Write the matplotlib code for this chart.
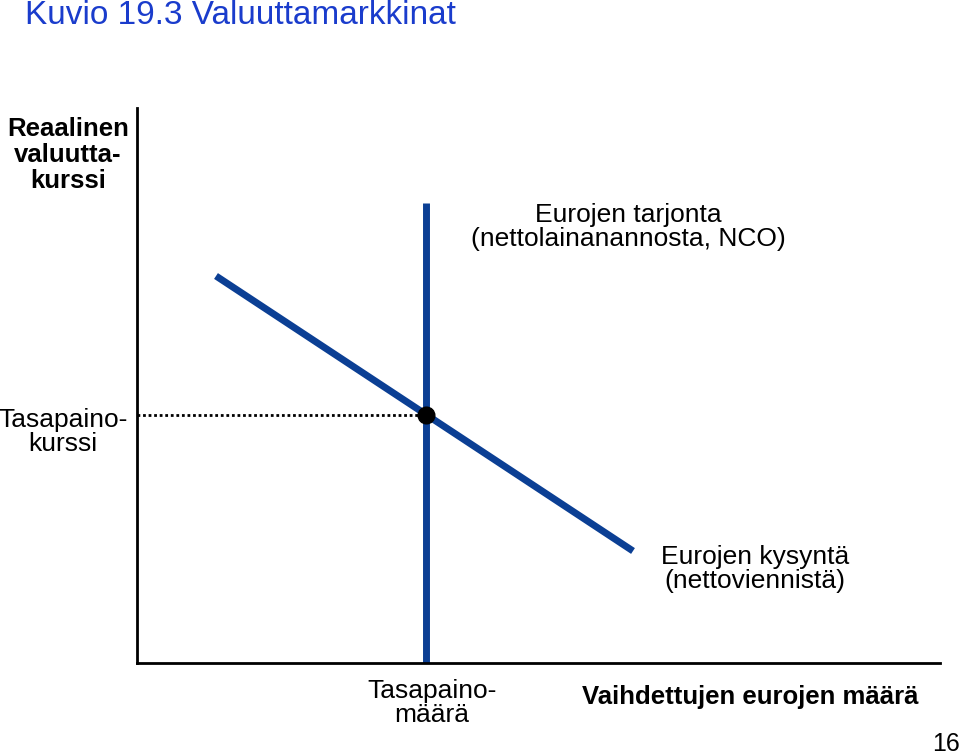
import matplotlib.pyplot as plt

plt.rcParams['font.family'] = ['Liberation Sans', 'DejaVu Sans']

# --- Data (pixel-like units, y grows downward) ---
X_MIN, X_MAX = 137, 940
Y_TOP, Y_BOTTOM = 108, 663
supply_x = [426, 426]
supply_y = [203, 663]
demand_x = [216, 633]
demand_y = [276, 551]
eq_x, eq_y = 426, 415
LINE_COLOR = '#0b3f94'

fig = plt.figure(figsize=(9.59, 7.55), dpi=100)
ax = fig.add_axes([137/959, 92/755, 803/959, 555/755])
ax.set_xlim(X_MIN, X_MAX)
ax.set_ylim(Y_BOTTOM, Y_TOP)
for s in ['top', 'right']:
    ax.spines[s].set_visible(False)
ax.spines['left'].set_linewidth(2)
ax.spines['bottom'].set_linewidth(2)
ax.set_xticks([])
ax.set_yticks([])

ax.plot(supply_x, supply_y, color=LINE_COLOR, lw=5, solid_capstyle='butt', clip_on=False)
ax.plot(demand_x, demand_y, color=LINE_COLOR, lw=5, solid_capstyle='butt')
ax.plot([X_MIN, eq_x], [eq_y, eq_y], color='black', lw=2, ls=(0, (1, 1)))
ax.plot(eq_x, eq_y, 'o', color='black', ms=12, zorder=5)

fig.text(25/959, 1 - 16/755, 'Kuvio 19.3 Valuuttamarkkinat', color='#1a3ccc',
         fontsize=24, va='center', ha='left')
fig.text(68/959, 1 - 155/755, 'Reaalinen\nvaluutta-\nkurssi', fontsize=18.5,
         fontweight='bold', ha='center', va='center', linespacing=1.1)
fig.text(63/959, 1 - 432/755, 'Tasapaino-\nkurssi', fontsize=19,
         ha='center', va='center', linespacing=1.05)
fig.text(432/959, 1 - 703/755, 'Tasapaino-\nmäärä', fontsize=19,
         ha='center', va='center', linespacing=1.05)
fig.text(750/959, 1 - 697/755, 'Vaihdettujen eurojen määrä', fontsize=18.5,
         fontweight='bold', ha='center', va='center')
fig.text(628/959, 1 - 227/755, 'Eurojen tarjonta\n(nettolainanannosta, NCO)', fontsize=19,
         ha='center', va='center', linespacing=1.05)
fig.text(755/959, 1 - 569/755, 'Eurojen kysyntä\n(nettoviennistä)', fontsize=19,
         ha='center', va='center', linespacing=1.05)
fig.text(946/959, 1 - 744/755, '16', fontsize=18, ha='center', va='center')

fig.savefig('out.png', dpi=100)
